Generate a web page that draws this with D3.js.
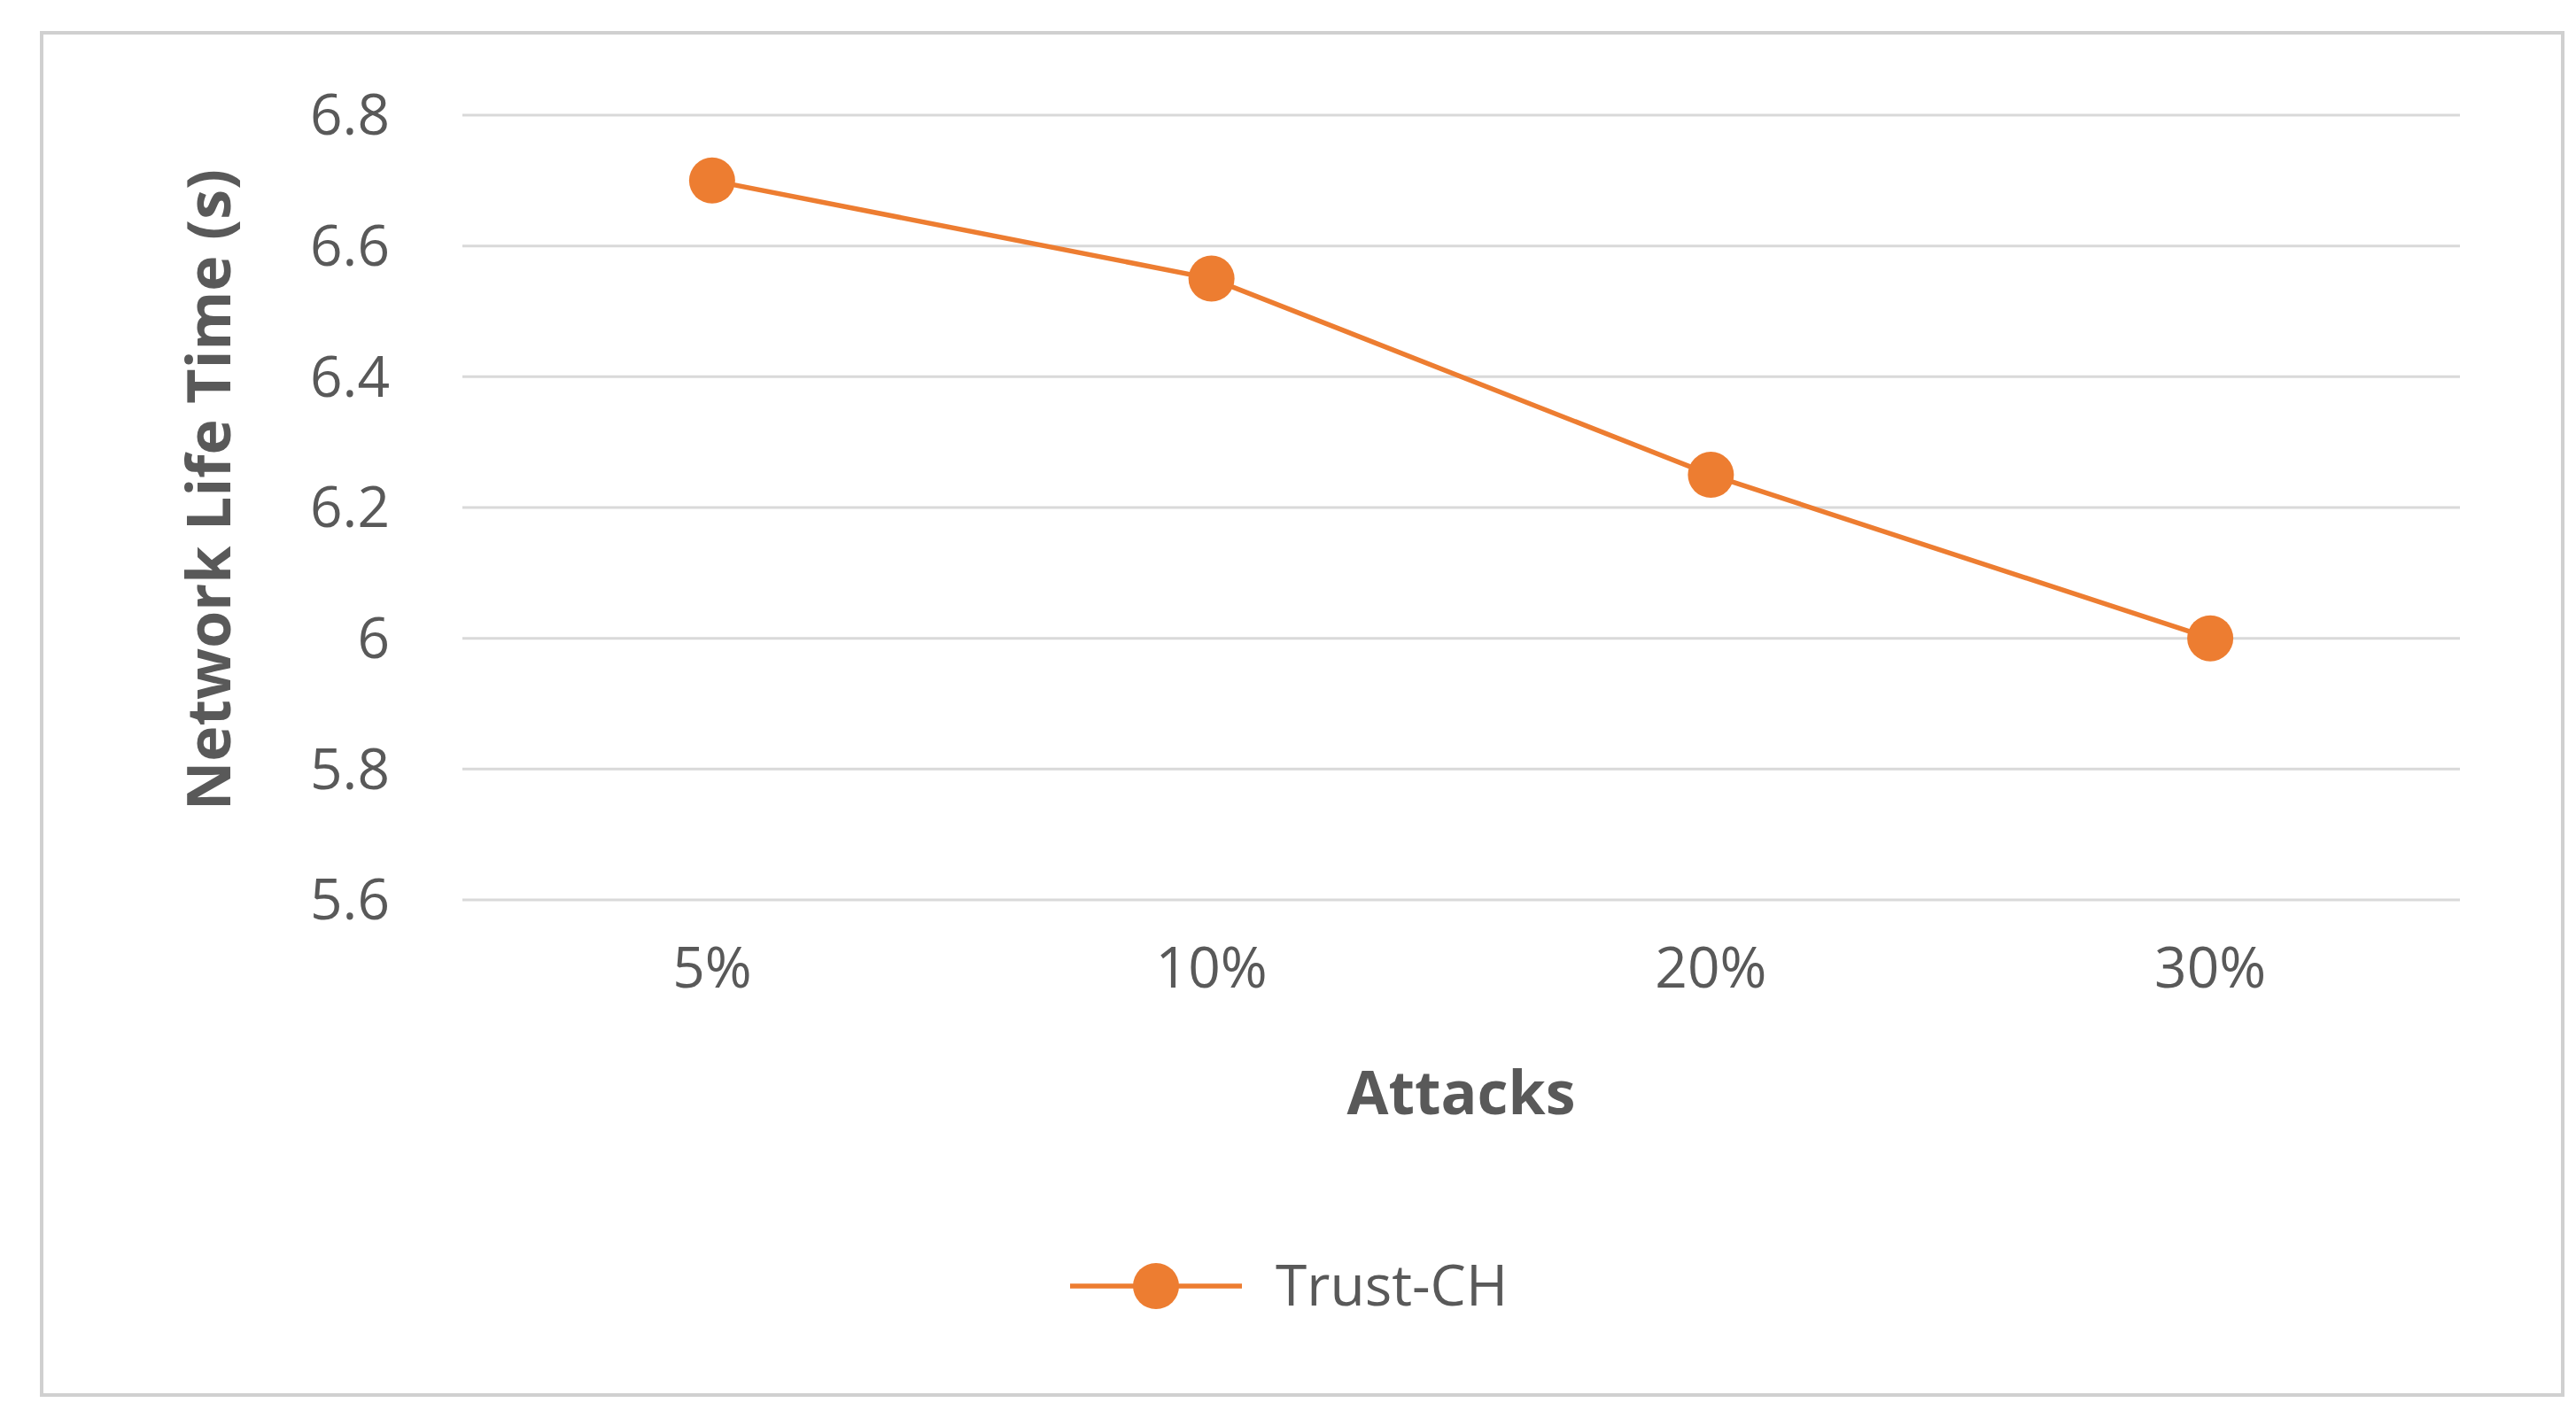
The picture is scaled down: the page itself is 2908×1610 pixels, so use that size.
<!DOCTYPE html>
<html><head><meta charset="utf-8">
<script src="https://cdn.jsdelivr.net/npm/d3@7"></script>
<style>body{margin:0;background:#fff}</style>
</head><body><div id="content"></div>
<script>
var categories = ["5%", "10%", "20%", "30%"];
var values = [6.7, 6.55, 6.25, 6.0];
var yTicks = [5.6, 5.8, 6, 6.2, 6.4, 6.6, 6.8];
var seriesName = "Trust-CH";

var width = 2908, height = 1610;
var plotLeft = 522, plotRight = 2777, plotTop = 130, plotBottom = 1016;
var orange = "#ED7D31", textCol = "#595959";

var svg = d3.select("#content").append("svg")
    .attr("width", width).attr("height", height)
    .style("font-family", "'Open Sans', 'DejaVu Sans', sans-serif");

svg.append("rect").attr("x", 0).attr("y", 0).attr("width", width).attr("height", height).attr("fill", "#fff");
svg.append("rect").attr("x", 47).attr("y", 37).attr("width", 2846).attr("height", 1538)
    .attr("fill", "none").attr("stroke", "#d0d0d0").attr("stroke-width", 4);

var x = d3.scaleBand().domain(categories).range([plotLeft, plotRight]);
var y = d3.scaleLinear().domain([5.6, 6.8]).range([plotBottom, plotTop]);

// gridlines
svg.selectAll(".grid").data(yTicks).enter().append("line")
    .attr("x1", plotLeft).attr("x2", plotRight)
    .attr("y1", d => y(d)).attr("y2", d => y(d))
    .attr("stroke", "#d9d9d9").attr("stroke-width", 3);

// y tick labels
svg.selectAll(".ylab").data(yTicks).enter().append("text")
    .attr("x", 440).attr("y", d => y(d)).attr("dy", "0.35em")
    .attr("text-anchor", "end").attr("font-size", 64).attr("fill", textCol)
    .text(d => d3.format("")(d));

// x tick labels
svg.selectAll(".xlab").data(categories).enter().append("text")
    .attr("x", d => x(d) + x.bandwidth() / 2).attr("y", 1115)
    .attr("text-anchor", "middle").attr("font-size", 64).attr("fill", textCol)
    .text(d => d);

// axis titles
svg.append("text").attr("x", (plotLeft + plotRight) / 2).attr("y", 1258)
    .attr("text-anchor", "middle").attr("font-size", 68).attr("font-weight", "bold")
    .attr("fill", textCol).text("Attacks");
svg.append("text").attr("transform", "translate(260," + ((plotTop + plotBottom) / 2 - 20) + ") rotate(-90)")
    .attr("text-anchor", "middle").attr("font-size", 68).attr("font-weight", "bold")
    .attr("fill", textCol).text("Network Life Time (s)");

// line
var pts = categories.map((c, i) => [x(c) + x.bandwidth() / 2, y(values[i])]);
svg.append("path").attr("d", d3.line()(pts))
    .attr("fill", "none").attr("stroke", orange).attr("stroke-width", 5.5);
svg.selectAll(".pt").data(pts).enter().append("circle")
    .attr("cx", d => d[0]).attr("cy", d => d[1]).attr("r", 26).attr("fill", orange);

// legend
svg.append("line").attr("x1", 1208).attr("x2", 1402).attr("y1", 1452).attr("y2", 1452)
    .attr("stroke", orange).attr("stroke-width", 5.5);
svg.append("circle").attr("cx", 1305).attr("cy", 1452).attr("r", 26).attr("fill", orange);
svg.append("text").attr("x", 1440).attr("y", 1452).attr("dy", "0.35em")
    .attr("font-size", 64).attr("fill", textCol).text(seriesName);
</script>
</body></html>
